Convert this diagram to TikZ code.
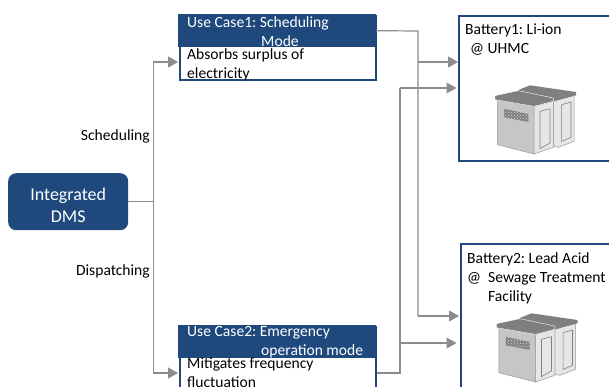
\documentclass[tikz,border=0pt]{standalone}
\usepackage{fontspec}
\setmainfont{Carlito}
\usetikzlibrary{arrows.meta,patterns}
\definecolor{dmsblue}{HTML}{1F497D}
\definecolor{linegray}{HTML}{8C8C8C}
\definecolor{topgray}{HTML}{7F7F7F}
\definecolor{facegray}{HTML}{C6C6C6}
\definecolor{sidegray}{HTML}{E6E6E6}
\tikzset{
  body/.style={font=\fontsize{15.6}{19}\selectfont\frenchspacing},
  conn/.style={draw=linegray,line width=1.2pt},
  arr/.style={conn,-{Triangle[length=10pt,width=11pt,fill=linegray]}},
  casebox/.style={draw=dmsblue,line width=1.6pt,fill=white,minimum width=196pt,inner sep=0pt,anchor=north west},
  casehead/.style={fill=dmsblue,minimum width=197.6pt,minimum height=33pt,inner sep=0pt,anchor=north west},
  headtext/.style={body,text=white,align=left,inner sep=0pt,anchor=north west},
  plaintext/.style={body,text=black,align=left,inner sep=0pt,anchor=north west},
  batbox/.style={draw=dmsblue,line width=1.8pt,fill=white,inner sep=0pt,anchor=north west},
  batterypic/.pic={
    \path[fill=sidegray,draw=gray!80,line width=.5pt] (190,70)--(252,50)--(252,190)--(205,208)--(190,204)--cycle;
    \path[fill=sidegray,draw=gray,line width=.6pt] (215,80)--(243,72)--(243,178)--(215,190)--cycle;
    \path[fill=topgray] (85,36)--(120,22)--(258,42)--(258,52)--(190,70)--(85,45)--cycle;
    \path[fill=facegray,draw=gray!80,line width=.5pt] (22,65)--(132,85)--(132,228)--(22,200)--cycle;
    \path[fill=sidegray,draw=gray!80,line width=.5pt] (132,85)--(190,70)--(190,208)--(132,228)--cycle;
    \path[fill=sidegray,draw=gray,line width=.6pt] (150,100)--(180,92)--(180,195)--(150,212)--cycle;
    \path[fill=black!50] (42,92)--(115,108)--(115,132)--(42,118)--cycle;
    \path[pattern=crosshatch dots,pattern color=white!70!gray] (42,92)--(115,108)--(115,132)--(42,118)--cycle;
    \path[fill=topgray,draw=white,line width=.4pt] (15,53)--(85,38)--(190,60)--(190,70)--(132,85)--(15,65)--cycle;
  }
}
\begin{document}
\begin{tikzpicture}[x=1pt,y=-1pt]
\useasboundingbox (0,0) rectangle (609,387);
\clip (0,0) rectangle (609,387);
% nodes
\node[fill=dmsblue,rounded corners=8pt,minimum width=120pt,minimum height=57pt,inner sep=0pt,anchor=north west,
      text=white,align=center,font=\fontsize{18}{22}\selectfont] (dms) at (8,173) {\rule{0pt}{20pt}Integrated\\DMS};

\node[casebox,minimum height=64pt] (uc1) at (179,15) {};
\node[casehead] (uc1h) at (178,14) {};
\node[headtext] (uc1ht) at (187,16.5) {Use Case1: Scheduling\\\hspace*{74pt}Mode};
\node[plaintext] (uc1bt) at (187,48.5) {Absorbs surplus of\\electricity};

\node[casebox,minimum height=70pt] (uc2) at (179,326) {};
\node[casehead] (uc2h) at (178,325) {};
\node[headtext] (uc2ht) at (187,326.5) {Use Case2: Emergency\\\hspace*{74pt}operation mode};
\node[plaintext] (uc2bt) at (187,357.5) {Mitigates frequency\\fluctuation};

\node[batbox,minimum width=160pt,minimum height=145pt] (b1) at (458,15) {};
\node[plaintext] (b1t) at (465,24) {Battery1: Li-ion\\\hspace*{5pt}@ UHMC};
\node[batbox,minimum width=160pt,minimum height=160pt] (b2) at (460,243) {};
\node[plaintext] (b2t) at (467,252) {Battery2: Lead Acid\\@\hspace*{7pt}Sewage Treatment\\\hspace*{21pt}Facility};

\pic at (490,78) [scale=1/3] {batterypic};
\pic at (491.5,306) [scale=1/3] {batterypic};

\node[plaintext,anchor=east] (sch) at (150,136) {Scheduling};
\node[plaintext,anchor=east] (dis) at (150,271) {Dispatching};

% routing coordinates
\coordinate (tr) at (153.5,201.5);
\coordinate (p1) at (153.5,62);
\coordinate (p2) at (153.5,373);
\coordinate (a1) at (178,62);
\coordinate (a2) at (178,373);
\coordinate (v1) at (418,31);
\coordinate (v1a) at (418,62);
\coordinate (v1b) at (418,316);
\coordinate (t1a) at (458,62);
\coordinate (t1b) at (459,316);
\coordinate (v2) at (400,373);
\coordinate (v2a) at (400,88);
\coordinate (v2b) at (400,343);
\coordinate (t2a) at (456.5,88);
\coordinate (t2b) at (456.5,343);

% connectors
\draw[conn] (dms.east |- tr) -- (tr);
\draw[arr] (tr) -- (p1) -- (a1);
\draw[arr] (tr) -- (p2) -- (a2);
\draw[conn] (uc1h.east) -- (v1) -- (v1b);
\draw[arr] (v1a) -- (t1a);
\draw[arr] (v1b) -- (t1b);
\draw[conn] (uc2.east |- v2) -- (v2) -- (v2a);
\draw[arr] (v2a) -- (t2a);
\draw[arr] (v2b) -- (t2b);
\end{tikzpicture}
\end{document}
